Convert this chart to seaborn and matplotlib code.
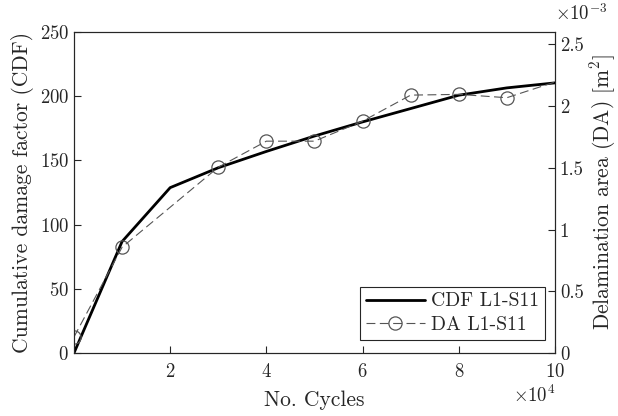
import matplotlib
matplotlib.use("Agg")
import matplotlib.pyplot as plt
import seaborn as sns
import pandas as pd
from matplotlib.ticker import ScalarFormatter, FuncFormatter

# --- data ---
cdf_cycles = [0, 10000, 20000, 30000, 40000, 50000, 60000, 70000, 80000, 90000, 100000]
cdf_values = [0, 86.8, 128.8, 144.3, 157.0, 169.0, 180.0, 190.4, 200.8, 206.5, 210.4]

da_cycles = [0, 10000, 30000, 40000, 50000, 60000, 70000, 80000, 90000, 100000]
da_values = [0.13e-3, 0.857e-3, 1.505e-3, 1.716e-3, 1.716e-3, 1.878e-3, 2.089e-3, 2.095e-3, 2.068e-3, 2.195e-3]

x_ticks = [20000, 40000, 60000, 80000, 100000]
left_ticks = [0, 50, 100, 150, 200, 250]
right_ticks = [0, 0.5e-3, 1e-3, 1.5e-3, 2e-3, 2.5e-3]

sns.set_theme(style="white")
plt.rcParams['font.family'] = ['cmr10', 'DejaVu Serif']
plt.rcParams['mathtext.fontset'] = 'cm'
plt.rcParams['axes.formatter.use_mathtext'] = True
plt.rcParams['axes.unicode_minus'] = False

df_cdf = pd.DataFrame({"cycles": cdf_cycles, "cdf": cdf_values})
df_da = pd.DataFrame({"cycles": da_cycles, "da": da_values})

fig = plt.figure(figsize=(6.18, 4.16), dpi=100)
ax = fig.add_axes([0.1197, 0.1514, 0.7783, 0.7716])
ax2 = ax.twinx()

sns.lineplot(data=df_cdf, x="cycles", y="cdf", ax=ax, color="black", lw=2.0,
             label="CDF L1-S11", legend=False)
sns.lineplot(data=df_da, x="cycles", y="da", ax=ax2, color="#555555", lw=0.8,
             dashes=False, linestyle=(0, (8, 4)), marker="o", markersize=9.5,
             markerfacecolor="none", markeredgecolor="#555555", markeredgewidth=0.9,
             markevery=list(range(len(da_cycles) - 1)),
             label="DA L1-S11", legend=False)

ax.set_xlim(0, 100000)
ax.set_ylim(0, 250)
ax2.set_ylim(0, 2.6e-3)
ax.set_xticks(x_ticks)
ax.set_yticks(left_ticks)
ax2.set_yticks(right_ticks)

fmt_x = ScalarFormatter(useMathText=True)
fmt_x.set_powerlimits((4, 4))
ax.xaxis.set_major_formatter(fmt_x)
ax2.yaxis.set_major_formatter(FuncFormatter(lambda v, p: f"{v * 1e3:g}"))
ax2.text(1.0, 1.025, r"$\times10^{-3}$", transform=ax2.transAxes, ha="left", va="bottom",
         fontsize=13.5, color="#262626")

ax.set_xlabel("No. Cycles", fontsize=15.5, labelpad=7)
ax.set_ylabel("Cumulative damage factor (CDF)", fontsize=15.5, labelpad=4)
ax2.set_ylabel(r"Delamination area (DA) [m$^2$]", fontsize=15.5, labelpad=3)

for a in (ax, ax2):
    a.tick_params(direction="in", length=5, width=0.8, labelsize=13.5, colors="#262626")
    for s in a.spines.values():
        s.set_color("#262626")
        s.set_linewidth(0.8)
ax.tick_params(axis="x", pad=7)
ax.xaxis.get_offset_text().set_fontsize(13.5)
ax.tick_params(left=True, bottom=True)
ax2.tick_params(right=True)

h1, l1 = ax.get_legend_handles_labels()
h2, l2 = ax2.get_legend_handles_labels()
leg = ax2.legend(h1 + h2, l1 + l2, loc="lower right", bbox_to_anchor=(0.979, 0.04),
                 borderaxespad=0, fontsize=14.2, handlelength=3.0, fancybox=False,
                 framealpha=1, edgecolor="#262626", borderpad=0.3, labelspacing=0.3,
                 handletextpad=0.3)
leg.get_frame().set_linewidth(0.8)

fig.savefig("out.png", dpi=100)
